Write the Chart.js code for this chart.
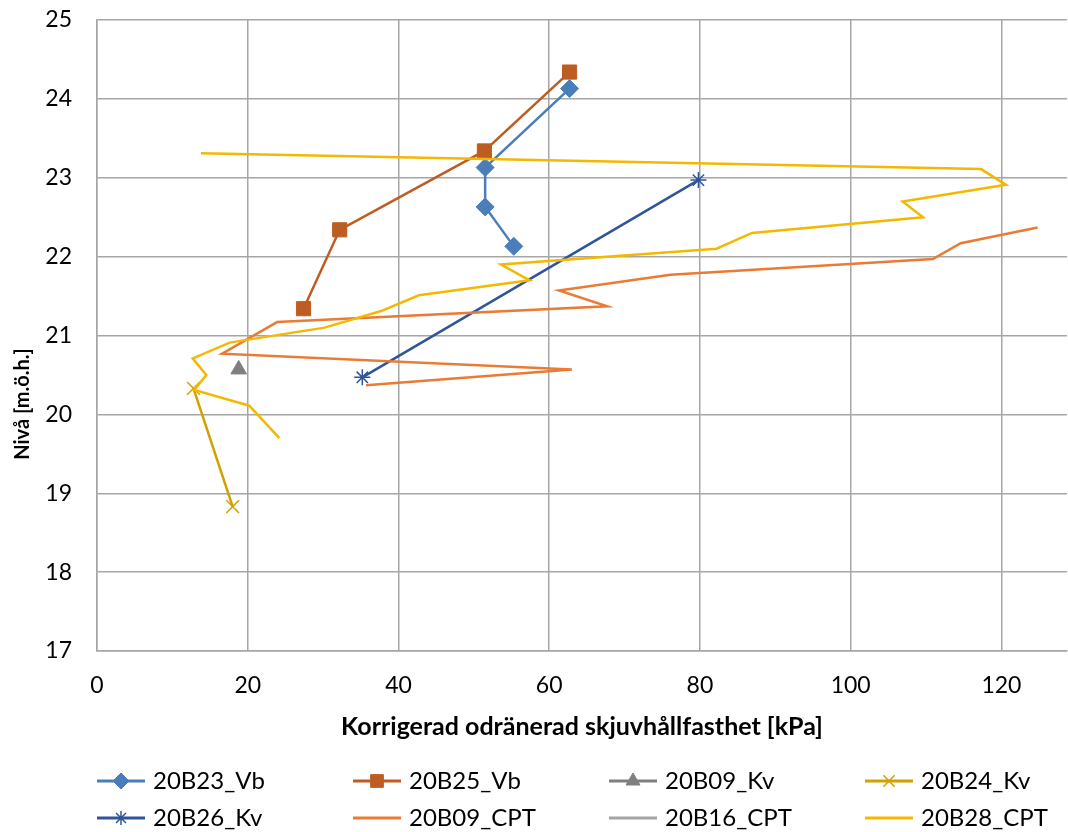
<!DOCTYPE html>
<html>
<head>
<meta charset="utf-8">
<script src="https://cdn.jsdelivr.net/npm/chart.js@4"></script>
<style>
  html, body { margin: 0; padding: 0; background: #fff; overflow: hidden; }
  #wrap { width: 1068px; height: 832px; overflow: hidden; }
</style>
</head>
<body>
<div id="wrap"><canvas id="nivaChart" width="1078" height="832"></canvas></div>
<script>
// Shear strength (kPa) against level (m.ö.h.) per borehole
const seriesNames = ['20B23_Vb', '20B25_Vb', '20B09_Kv', '20B24_Kv', '20B26_Kv', '20B09_CPT', '20B16_CPT', '20B28_CPT'];

const b23VbX = [62.7, 51.5, 51.5, 55.3];
const b23VbY = [24.13, 23.13, 22.63, 22.13];

const b25VbX = [62.7, 51.4, 32.2, 27.4];
const b25VbY = [24.34, 23.34, 22.34, 21.34];

const b09KvX = [18.8];
const b09KvY = [20.57];

const b24KvX = [12.8, 18.0];
const b24KvY = [20.33, 18.83];

const b26KvX = [35.2, 79.8];
const b26KvY = [20.47, 22.97];

const b09CptX = [124.8, 114.6, 110.9, 76.1, 61.3, 67.7, 23.9, 16.6, 63.0, 35.7];
const b09CptY = [22.37, 22.17, 21.97, 21.77, 21.57, 21.37, 21.17, 20.77, 20.57, 20.37];

const b16CptX = [];
const b16CptY = [];

const b28CptX = [13.8, 117.3, 120.6, 106.9, 109.6, 86.9, 82.2, 53.6, 57.4, 42.7, 37.7, 30.2, 17.6, 12.7, 14.5, 12.9, 20.2, 24.2];
const b28CptY = [23.31, 23.11, 22.91, 22.70, 22.50, 22.30, 22.10, 21.90, 21.70, 21.51, 21.31, 21.10, 20.91, 20.71, 20.50, 20.31, 20.11, 19.70];

const xTicks = [0, 20, 40, 60, 80, 100, 120];
const yTicks = [17, 18, 19, 20, 21, 22, 23, 24, 25];

const seriesX = [b23VbX, b25VbX, b09KvX, b24KvX, b26KvX, b09CptX, b16CptX, b28CptX];
const seriesY = [b23VbY, b25VbY, b09KvY, b24KvY, b26KvY, b09CptY, b16CptY, b28CptY];
const colors = ['#4A7EBB', '#BE5D22', '#7F7F7F', '#D2A000', '#2E559A', '#E97B35', '#A5A5A5', '#F5B800'];
const markers = ['rectRot', 'rect', 'triangle', 'crossRot', 'star', false, false, false];
const markerSize = [9, 10, 9, 9, 8, 0, 0, 0];

const FONT = 'Lato, "Open Sans", sans-serif';

const thinMarker = m => m === 'crossRot' || m === 'star';

const datasets = seriesNames.map((name, i) => ({
    label: name,
    data: seriesX[i].map((x, k) => ({ x: x, y: seriesY[i][k] })),
    showLine: true,
    borderColor: colors[i],
    backgroundColor: colors[i],
    borderWidth: 2.5,
    pointStyle: markers[i],
    pointRadius: markerSize[i],
    pointBorderWidth: thinMarker(markers[i]) ? 1.5 : 1,
    pointBorderColor: colors[i],
    pointBackgroundColor: colors[i],
    tension: 0,
    // later series on top, as in the spreadsheet
    order: seriesNames.length - i
}));

// legend in a 4 x 2 grid with line + marker samples
const gridLegend = {
    id: 'gridLegend',
    afterDraw(chart) {
        const ctx = chart.ctx;
        const colX = [97, 353, 609, 865];
        const rowY = [781, 818];
        ctx.save();
        seriesNames.forEach((name, i) => {
            const x0 = colX[i % 4];
            const y0 = rowY[Math.floor(i / 4)];
            ctx.strokeStyle = colors[i];
            ctx.lineWidth = 3;
            ctx.beginPath();
            ctx.moveTo(x0, y0);
            ctx.lineTo(x0 + 48, y0);
            ctx.stroke();
            if (markers[i] && Chart.helpers && Chart.helpers.drawPoint) {
                ctx.fillStyle = colors[i];
                ctx.lineWidth = thinMarker(markers[i]) ? 1.5 : 1;
                Chart.helpers.drawPoint(ctx, {
                    pointStyle: markers[i],
                    radius: markerSize[i] - 1,
                    rotation: 0,
                    borderWidth: ctx.lineWidth
                }, x0 + 24, y0);
            }
            ctx.fillStyle = '#000';
            ctx.font = '24px ' + FONT;
            ctx.textBaseline = 'middle';
            ctx.textAlign = 'left';
            ctx.fillText(name, x0 + 56, y0);
        });
        ctx.restore();
    }
};

// y axis title sits a little below the middle of the plot
const yTitle = {
    id: 'yTitle',
    afterDraw(chart) {
        const ctx = chart.ctx;
        ctx.save();
        ctx.translate(23, 404);
        ctx.rotate(-Math.PI / 2);
        ctx.fillStyle = '#000';
        ctx.font = 'bold 20px ' + FONT;
        ctx.textAlign = 'center';
        ctx.textBaseline = 'middle';
        ctx.fillText('Nivå [m.ö.h.]', 0, 0);
        ctx.restore();
    }
};

new Chart(document.getElementById('nivaChart').getContext('2d'), {
    type: 'scatter',
    data: { datasets: datasets },
    options: {
        responsive: false,
        animation: false,
        events: [],
        layout: { padding: { top: 20, right: 0, bottom: 0, left: 0 } },
        plugins: {
            legend: { display: false },
            tooltip: { enabled: false }
        },
        scales: {
            x: {
                type: 'linear',
                min: 0,
                max: 128.7,
                afterFit: scale => {
                    scale.height = 181;
                    scale.paddingLeft = 0;
                    scale.paddingRight = 0;
                },
                afterBuildTicks: scale => { scale.ticks = xTicks.map(v => ({ value: v })); },
                ticks: {
                    includeBounds: false,
                    padding: 21,
                    color: '#000',
                    font: { family: FONT, size: 23 }
                },
                grid: { color: '#A6A6A6', lineWidth: 1.5, drawTicks: false },
                border: { color: '#A6A6A6', width: 1.5 },
                title: {
                    display: true,
                    text: 'Korrigerad odränerad skjuvhållfasthet [kPa]',
                    color: '#000',
                    font: { family: FONT, size: 25, weight: 'bold' },
                    padding: { top: 0, bottom: 90 }
                }
            },
            y: {
                type: 'linear',
                min: 17,
                max: 25,
                afterFit: scale => {
                    scale.width = 97;
                    scale.paddingTop = 0;
                    scale.paddingBottom = 0;
                },
                afterBuildTicks: scale => { scale.ticks = yTicks.map(v => ({ value: v })); },
                ticks: {
                    padding: 25,
                    color: '#000',
                    font: { family: FONT, size: 23 }
                },
                grid: { color: '#A6A6A6', lineWidth: 1.5, drawTicks: false },
                border: { color: '#A6A6A6', width: 1.5 }
            }
        }
    },
    plugins: [gridLegend, yTitle]
});
</script>
</body>
</html>
